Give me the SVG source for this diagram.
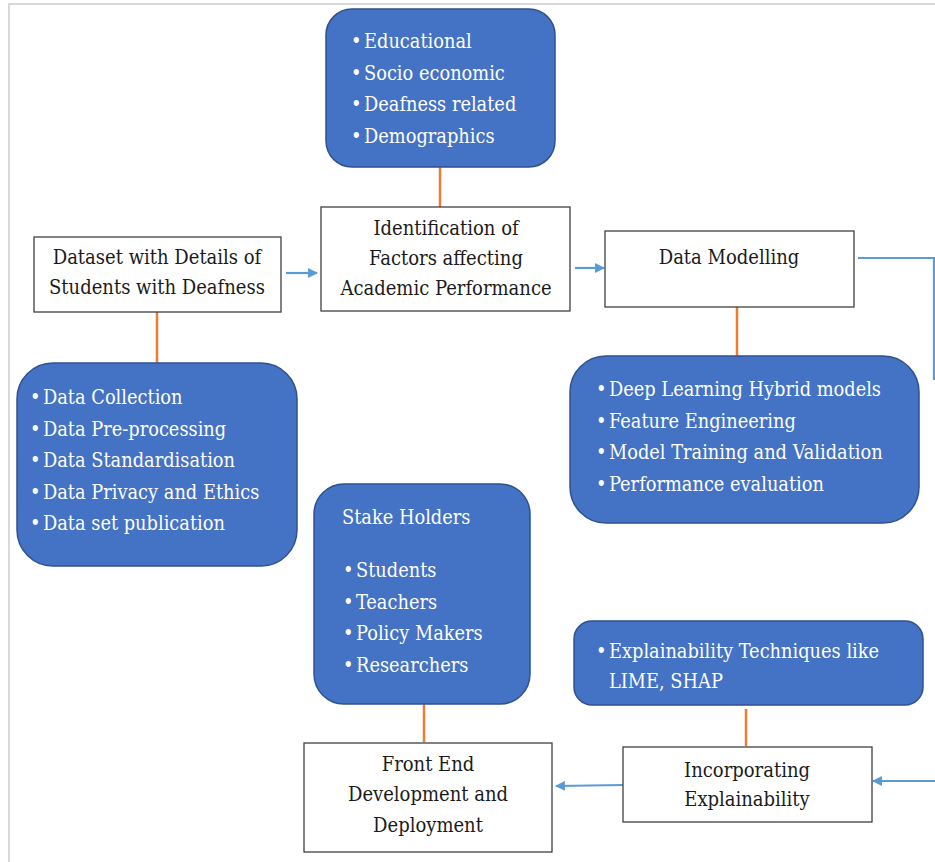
<svg xmlns="http://www.w3.org/2000/svg" width="935" height="862" viewBox="0 0 935 862" font-family="'DejaVu Serif Condensed', 'DejaVu Serif', serif">
<style>
.blue{fill:#4472c4;stroke:#2f528f;stroke-width:1.5}
.box{fill:#fff;stroke:#404040;stroke-width:1.3}
.t{font-size:20px;fill:#1a1a1a}
.w{font-size:19.8px;fill:#fff}
.c{text-anchor:middle}
.or{stroke:#ed7d31;stroke-width:2.5;fill:none}
.bl{stroke:#5b9bd5;stroke-width:2.2;fill:none}
.frame{stroke:#d9d9d9;stroke-width:2;fill:none}
</style>
<defs>
<marker id="ah" viewBox="0 0 10 10" refX="9" refY="5" markerWidth="5" markerHeight="4.5" orient="auto" markerUnits="strokeWidth">
<path d="M0,0 L10,5 L0,10 z" fill="#5b9bd5"/>
</marker>
</defs>
<rect width="935" height="862" fill="#fff"/>
<path class="frame" d="M9,862 V4 H935"/>

<g id="connectors">
<line class="or" x1="440" y1="167" x2="440" y2="207"/>
<line class="or" x1="157" y1="312" x2="157" y2="363"/>
<line class="or" x1="737" y1="307" x2="737" y2="356"/>
<line class="or" x1="424" y1="704" x2="424" y2="742"/>
<line class="or" x1="746" y1="709" x2="746" y2="746"/>
<line class="bl" x1="286" y1="273" x2="317" y2="273" marker-end="url(#ah)"/>
<line class="bl" x1="575" y1="268" x2="604" y2="268" marker-end="url(#ah)"/>
<path class="bl" d="M858,258 H934 V380"/>
<line class="bl" x1="623" y1="785" x2="556" y2="786" marker-end="url(#ah)"/>
<line class="bl" x1="935" y1="781" x2="873" y2="781" marker-end="url(#ah)"/>
</g>

<g id="factors">
<rect class="blue" x="326" y="9" width="229" height="158" rx="26"/>
<text class="w" x="351" y="48">•<tspan x="364">Educational</tspan></text>
<text class="w" x="351" y="79.5">•<tspan x="364">Socio economic</tspan></text>
<text class="w" x="351" y="111">•<tspan x="364">Deafness related</tspan></text>
<text class="w" x="351" y="142.5">•<tspan x="364">Demographics</tspan></text>
</g>

<g id="identification">
<rect class="box" x="321" y="207" width="249" height="104"/>
<text class="t c" x="446" y="235">Identification of</text>
<text class="t c" x="446" y="265">Factors affecting</text>
<text class="t c" x="446" y="295">Academic Performance</text>
</g>

<g id="dataset">
<rect class="box" x="34" y="237" width="247" height="75"/>
<text class="t c" x="157" y="264">Dataset with Details of</text>
<text class="t c" x="157" y="294">Students with Deafness</text>
</g>

<g id="modelling">
<rect class="box" x="605" y="231" width="249" height="76"/>
<text class="t c" x="729" y="264">Data Modelling</text>
</g>

<g id="data-steps">
<rect class="blue" x="17" y="363" width="280" height="203" rx="36"/>
<text class="w" x="30" y="404">•<tspan x="43">Data Collection</tspan></text>
<text class="w" x="30" y="435.5">•<tspan x="43">Data Pre-processing</tspan></text>
<text class="w" x="30" y="467">•<tspan x="43">Data Standardisation</tspan></text>
<text class="w" x="30" y="498.5">•<tspan x="43">Data Privacy and Ethics</tspan></text>
<text class="w" x="30" y="530">•<tspan x="43">Data set publication</tspan></text>
</g>

<g id="model-steps">
<rect class="blue" x="570" y="356" width="349" height="167" rx="36"/>
<text class="w" x="596" y="396">•<tspan x="609">Deep Learning Hybrid models</tspan></text>
<text class="w" x="596" y="427.5">•<tspan x="609">Feature Engineering</tspan></text>
<text class="w" x="596" y="459">•<tspan x="609">Model Training and Validation</tspan></text>
<text class="w" x="596" y="490.5">•<tspan x="609">Performance evaluation</tspan></text>
</g>

<g id="stakeholders">
<rect class="blue" x="314" y="484" width="216" height="220" rx="30"/>
<text class="w" x="342" y="524">Stake Holders</text>
<text class="w" x="343" y="577">•<tspan x="356">Students</tspan></text>
<text class="w" x="343" y="608.5">•<tspan x="356">Teachers</tspan></text>
<text class="w" x="343" y="640">•<tspan x="356">Policy Makers</tspan></text>
<text class="w" x="343" y="671.5">•<tspan x="356">Researchers</tspan></text>
</g>

<g id="techniques">
<rect class="blue" x="574" y="621" width="349" height="84" rx="18"/>
<text class="w" x="596" y="658">•<tspan x="609">Explainability Techniques like</tspan></text>
<text class="w" x="609" y="688">LIME, SHAP</text>
</g>

<g id="frontend">
<rect class="box" x="304" y="743" width="248" height="109"/>
<text class="t c" x="428" y="771">Front End</text>
<text class="t c" x="428" y="801">Development and</text>
<text class="t c" x="428" y="832">Deployment</text>
</g>

<g id="explainability">
<rect class="box" x="623" y="747" width="249" height="75"/>
<text class="t c" x="747" y="777">Incorporating</text>
<text class="t c" x="747" y="806">Explainability</text>
</g>
</svg>
